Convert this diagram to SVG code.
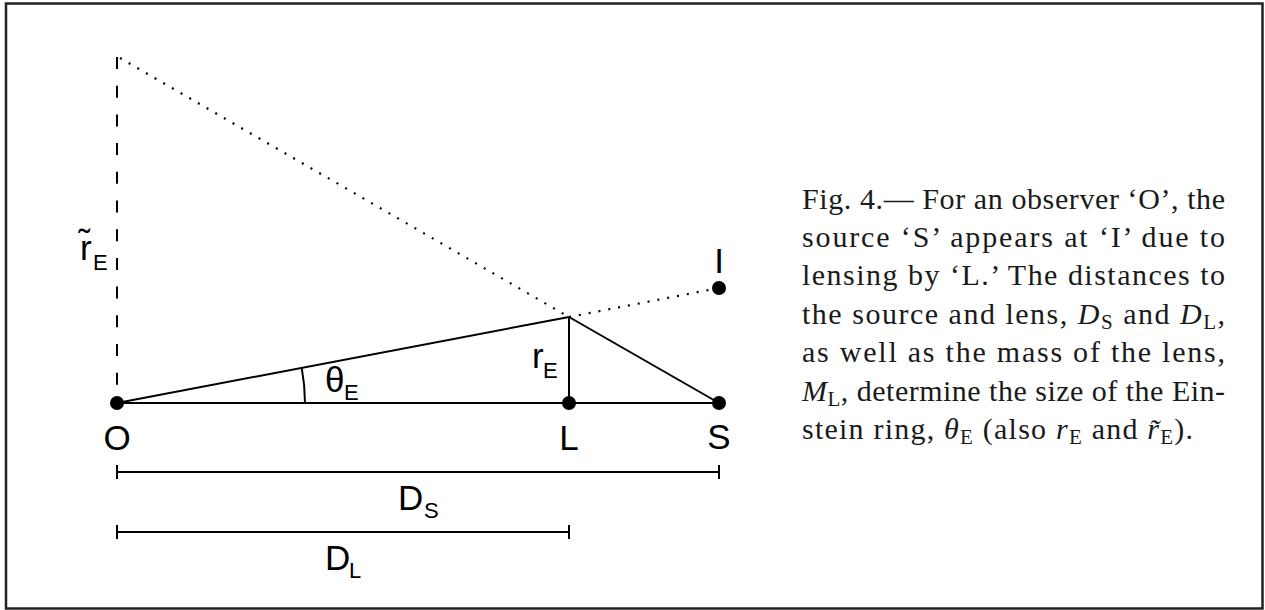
<svg xmlns="http://www.w3.org/2000/svg" width="1265" height="610" viewBox="0 0 1265 610">
<style>
.ln{stroke:#000;stroke-width:2;fill:none}
.dash{stroke:#000;stroke-width:2;fill:none;stroke-dasharray:12 16.7}
.dot{stroke:#000;stroke-width:2.2;fill:none;stroke-dasharray:2 8}
.pt{fill:#000}
.lb{font-family:"Liberation Sans",Arial,sans-serif;font-size:35px;fill:#000}
.sb{font-family:"Liberation Sans",Arial,sans-serif;font-size:22px;fill:#000}
.cap{font-family:"Liberation Serif","Times New Roman",serif;font-size:30px;fill:#1a1a1a}
.it{font-style:italic}
.cs{font-size:21px}
</style>
<rect x="0" y="0" width="1265" height="610" fill="#fff"/>
<rect x="6" y="3.5" width="1256.5" height="605" fill="none" stroke="#222" stroke-width="2.5"/>
<g id="connectors">
<line class="dash" x1="117" y1="57" x2="117" y2="386"/>
<line class="dot" x1="120" y1="58" x2="569" y2="317"/>
<line class="dot" x1="569" y1="317" x2="719" y2="288"/>
<line class="ln" x1="117" y1="403" x2="719" y2="403"/>
<line class="ln" x1="117" y1="403" x2="569" y2="317"/>
<line class="ln" x1="569" y1="317" x2="569" y2="403"/>
<line class="ln" x1="569" y1="317" x2="719" y2="403"/>
<path class="ln" d="M305 403 A188 188 0 0 0 301.7 367.9" stroke-width="1.8"/>
<g id="bar-DS"><line class="ln" x1="117" y1="472" x2="719" y2="472"/><line class="ln" x1="117" y1="465" x2="117" y2="479"/><line class="ln" x1="719" y1="465" x2="719" y2="479"/></g>
<g id="bar-DL"><line class="ln" x1="117" y1="532" x2="569" y2="532"/><line class="ln" x1="117" y1="525" x2="117" y2="539"/><line class="ln" x1="569" y1="525" x2="569" y2="539"/></g>
</g>
<g id="node-O"><circle class="pt" cx="117" cy="403" r="7"/><text class="lb" x="117" y="450" text-anchor="middle">O</text></g>
<g id="node-L"><circle class="pt" cx="569" cy="403" r="7"/><text class="lb" x="569" y="450" text-anchor="middle">L</text></g>
<g id="node-S"><circle class="pt" cx="719" cy="403" r="7"/><text class="lb" x="719" y="449" text-anchor="middle">S</text></g>
<g id="node-I"><circle class="pt" cx="719" cy="288" r="7"/><text class="lb" x="719" y="273" text-anchor="middle">I</text></g>
<g id="labels">
<text class="lb" x="325" y="392">θ<tspan class="sb" x="344" y="400">E</tspan></text>
<text class="lb" x="532" y="368">r<tspan class="sb" x="543" y="378">E</tspan></text>
<text class="lb" x="80" y="260">r̃<tspan class="sb" x="93" y="270">E</tspan></text>
<text class="lb" x="398" y="510">D<tspan class="sb" x="424" y="518">S</tspan></text>
<text class="lb" x="325" y="570">D<tspan class="sb" x="349" y="578">L</tspan></text>
</g>
<g id="caption" class="cap">
<text x="802" y="209" textLength="423" lengthAdjust="spacing">Fig. 4.— For an observer ‘O’, the</text>
<text x="802" y="247" textLength="423" lengthAdjust="spacing">source ‘S’ appears at ‘I’ due to</text>
<text x="802" y="285" textLength="423" lengthAdjust="spacing">lensing by ‘L.’ The distances to</text>
<text x="802" y="324" textLength="423" lengthAdjust="spacing">the source and lens, <tspan class="it">D</tspan><tspan class="cs" dy="5">S</tspan><tspan dy="-5"> and </tspan><tspan class="it">D</tspan><tspan class="cs" dy="5">L</tspan><tspan dy="-5">,</tspan></text>
<text x="802" y="362" textLength="423" lengthAdjust="spacing">as well as the mass of the lens,</text>
<text x="802" y="401" textLength="423" lengthAdjust="spacing"><tspan class="it">M</tspan><tspan class="cs" dy="5">L</tspan><tspan dy="-5">, determine the size of the Ein-</tspan></text>
<text x="802" y="439" textLength="391" lengthAdjust="spacing">stein ring, <tspan class="it">θ</tspan><tspan class="cs" dy="5">E</tspan><tspan dy="-5"> (also </tspan><tspan class="it">r</tspan><tspan class="cs" dy="5">E</tspan><tspan dy="-5"> and </tspan><tspan class="it">r̃</tspan><tspan class="cs" dy="5">E</tspan><tspan dy="-5">).</tspan></text>
</g>
</svg>
